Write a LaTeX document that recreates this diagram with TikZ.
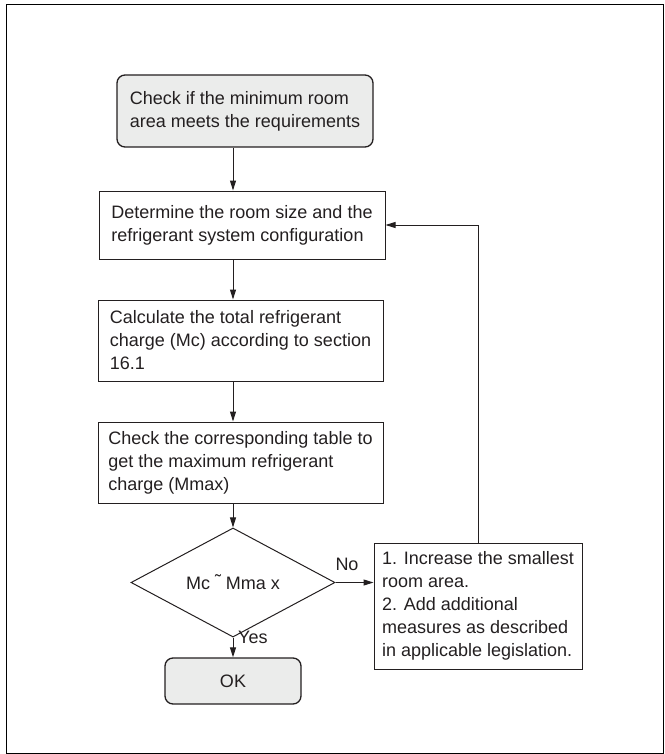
\documentclass[tikz,border=0pt]{standalone}
\usepackage{fontspec}
\setmainfont{Liberation Sans}
\usetikzlibrary{arrows.meta,shapes.geometric}
\definecolor{ink}{HTML}{231F20}
\definecolor{boxfill}{HTML}{EBECEB}
\tikzset{
  every node/.style={font=\fontsize{18}{23}\selectfont, text=ink},
  flowbox/.style={draw=ink, line width=1pt, rectangle, inner sep=0pt, align=left},
  termbox/.style={flowbox, rounded corners=8pt, fill=boxfill, line width=1.3pt},
  decision/.style={draw=ink, line width=1pt, diamond, inner sep=0pt, align=center},
  flow/.style={draw=ink, line width=1pt, -{Triangle[length=10pt,width=6pt]}},
  lbl/.style={anchor=base, inner sep=0pt}
}
\begin{document}
\begin{tikzpicture}[x=1pt,y=-1pt]
\useasboundingbox (0,0) rectangle (664,754);
\draw[line width=1.5pt, black] (6.5,4.5) rectangle (663.5,753.5);
\coordinate (axis) at (233,0);
\node[termbox, minimum width=256pt, minimum height=72pt] (b1) at (245,111)
  {Check if the minimum room\\area meets the requirements};
\node[flowbox, minimum width=286pt, minimum height=68pt] (b2) at (242,225)
  {Determine the room size and the\\refrigerant system configuration};
\node[flowbox, minimum width=285pt, minimum height=81pt] (b3) at (240.5,340.5)
  {Calculate the total refrigerant\\charge (Mc) according to section\\16.1};
\node[flowbox, minimum width=285pt, minimum height=81pt] (b4) at (240.5,462.5)
  {Check the corresponding table to\\get the maximum refrigerant\\charge (Mmax)};
\node[decision, minimum width=204pt, minimum height=69pt] (d) at (233,582.5)
  {Mc \raisebox{2pt}{˜} Mma x};
\node[termbox, minimum width=136pt, minimum height=46pt] (ok) at (233,681) {OK};
\node[flowbox, minimum width=208pt, minimum height=126pt] (b5) at (478,606)
  {1. Increase the smallest\\room area.\\2. Add additional\\measures as described\\in applicable legislation.};
\draw[flow] (b1.south -| axis) -- (b2.north -| axis);
\draw[flow] (b2.south -| axis) -- (b3.north -| axis);
\draw[flow] (b3.south -| axis) -- (b4.north -| axis);
\draw[flow] (b4.south -| axis) -- (d.north);
\draw[flow] (d.south) -- (ok.north);
\draw[flow] (d.east) -- (b5.west |- d.east);
\draw[flow] (b5.north) |- (b2.east);
\node[lbl] (no) at (347,570) {No};
\node[lbl, anchor=base west] (yes) at (238,643) {Yes};
\end{tikzpicture}
\end{document}
